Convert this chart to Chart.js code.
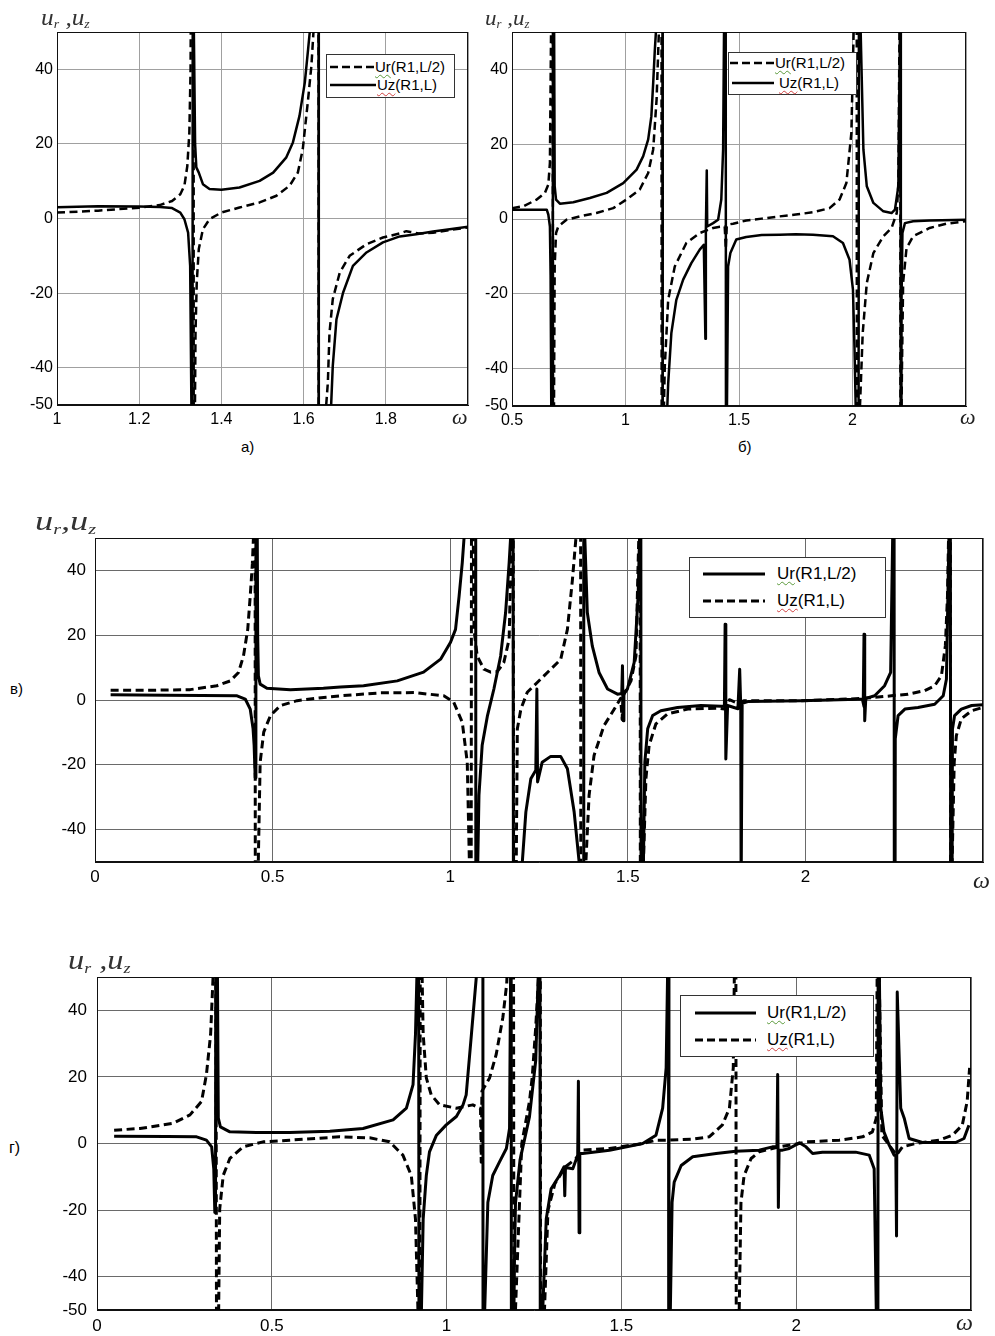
<!DOCTYPE html>
<html>
<head>
<meta charset="utf-8">
<title>u_r, u_z vs omega</title>
<script src="https://cdn.jsdelivr.net/npm/chart.js@4.4.1/dist/chart.umd.min.js"></script>
<style>
  body { margin: 0; background: #fff; }
  #page { position: relative; width: 995px; height: 1336px; overflow: hidden;
          font-family: 'Liberation Sans', Arial, sans-serif; color: #000; }
  canvas { position: absolute; }
  .t { position: absolute; white-space: nowrap; line-height: 1; }
  .ax { font-family: 'Liberation Serif', 'Times New Roman', serif; font-style: italic; color: #333; transform-origin: 0 0; }
  .ax sub { font-size: 55%; vertical-align: -0.25em; }
  .om { font-family: 'Liberation Serif', 'Times New Roman', serif; font-style: italic; color: #222; }
  .leg { position: absolute; background: #fff; border: 1px solid #333; box-sizing: border-box; }
  .leg svg, .leg span { position: absolute; }
  .leg span { white-space: nowrap; line-height: 1; }
  .sg { text-decoration: underline wavy #5a9a3a; text-decoration-thickness: 1px; text-underline-offset: 2px; }
  .sr { text-decoration: underline wavy #d04040; text-decoration-thickness: 1px; text-underline-offset: 2px; }
</style>
</head>
<body>
<div id="page">
  <canvas id="chA" width="480" height="435" style="left:0;top:0;width:480px;height:435px"></canvas>
  <canvas id="chB" width="515" height="435" style="left:480px;top:0;width:515px;height:435px"></canvas>
  <canvas id="chV" width="955" height="400" style="left:40px;top:500px;width:955px;height:400px"></canvas>
  <canvas id="chG" width="955" height="396" style="left:40px;top:940px;width:955px;height:396px"></canvas>

  <!-- axis names -->
  <div class="t ax" style="left:41px;top:6px;font-size:23px;transform:scaleX(1.1)">u<sub>r</sub> ,u<sub>z</sub></div>
  <div class="t ax" style="left:485px;top:8px;font-size:21px;transform:scaleX(1.1)">u<sub>r</sub> ,u<sub>z</sub></div>
  <div class="t ax" style="left:35px;top:507px;font-size:28px;transform:scaleX(1.3)">u<sub>r</sub>,u<sub>z</sub></div>
  <div class="t ax" style="left:68px;top:947px;font-size:27px;transform:scaleX(1.2)">u<sub>r</sub> ,u<sub>z</sub></div>

  <div class="t om" style="left:452px;top:406px;font-size:22px">ω</div>
  <div class="t om" style="left:960px;top:406px;font-size:22px">ω</div>
  <div class="t om" style="left:973px;top:868px;font-size:24px">ω</div>
  <div class="t om" style="left:956px;top:1310px;font-size:24px">ω</div>

  <!-- panel captions -->
  <div class="t" style="left:241px;top:439px;font-size:15px">а)</div>
  <div class="t" style="left:738px;top:439px;font-size:15px">б)</div>
  <div class="t" style="left:10px;top:681px;font-size:15px">в)</div>
  <div class="t" style="left:9px;top:1140px;font-size:16px">г)</div>

  <!-- legends -->
  <div class="leg" style="left:326px;top:54px;width:129px;height:44px">
    <svg style="left:3px;top:9px" width="46" height="6"><line x1="0" y1="3" x2="46" y2="3" stroke="#000" stroke-width="2.5" stroke-dasharray="8 4"/></svg>
    <span style="left:48px;top:4px;font-size:15px"><span class="sg" style="position:static">Ur</span>(R1,L/2)</span>
    <svg style="left:3px;top:27px" width="46" height="6"><line x1="0" y1="3" x2="46" y2="3" stroke="#000" stroke-width="2.5"/></svg>
    <span style="left:50px;top:22px;font-size:15px"><span class="sr" style="position:static">Uz</span>(R1,L)</span>
  </div>
  <div class="leg" style="left:728px;top:52px;width:129px;height:43px">
    <svg style="left:1px;top:7px" width="46" height="6"><line x1="0" y1="3" x2="46" y2="3" stroke="#000" stroke-width="2.5" stroke-dasharray="8 4"/></svg>
    <span style="left:46px;top:2px;font-size:15px"><span class="sg" style="position:static">Ur</span>(R1,L/2)</span>
    <svg style="left:3px;top:27px" width="42" height="6"><line x1="0" y1="3" x2="42" y2="3" stroke="#000" stroke-width="2.5"/></svg>
    <span style="left:50px;top:22px;font-size:15px"><span class="sr" style="position:static">Uz</span>(R1,L)</span>
  </div>
  <div class="leg" style="left:689px;top:557px;width:197px;height:61px">
    <svg style="left:13px;top:13px" width="62" height="6"><line x1="0" y1="3" x2="62" y2="3" stroke="#000" stroke-width="3"/></svg>
    <span style="left:87px;top:7px;font-size:17px"><span class="sg" style="position:static">Ur</span>(R1,L/2)</span>
    <svg style="left:13px;top:40px" width="62" height="6"><line x1="0" y1="3" x2="62" y2="3" stroke="#000" stroke-width="3" stroke-dasharray="8 4"/></svg>
    <span style="left:87px;top:34px;font-size:17px"><span class="sr" style="position:static">Uz</span>(R1,L)</span>
  </div>
  <div class="leg" style="left:680px;top:995px;width:194px;height:62px">
    <svg style="left:14px;top:14px" width="61" height="6"><line x1="0" y1="3" x2="61" y2="3" stroke="#000" stroke-width="3"/></svg>
    <span style="left:86px;top:8px;font-size:17px"><span class="sg" style="position:static">Ur</span>(R1,L/2)</span>
    <svg style="left:14px;top:41px" width="61" height="6"><line x1="0" y1="3" x2="61" y2="3" stroke="#000" stroke-width="3" stroke-dasharray="8 4"/></svg>
    <span style="left:86px;top:35px;font-size:17px"><span class="sr" style="position:static">Uz</span>(R1,L)</span>
  </div>
</div>

<script>
// ---- data: [omega, value]; +-200/300 marks the jump through a resonance ----

// а) Ur(R1,L/2) dashed, Uz(R1,L) solid
const aUr = [[1.00,1.6],[1.05,1.8],[1.10,2.1],[1.15,2.5],[1.20,2.9],[1.25,3.6],[1.28,4.7],[1.30,6.5],[1.31,8.8],
  [1.317,14],[1.322,23],[1.325,40],[1.328,120],[1.332,250],[1.333,-250],[1.335,-60],[1.337,-30.6],[1.340,-17.2],
  [1.345,-8.2],[1.355,-2.9],[1.371,-0.2],[1.40,1.6],[1.444,2.95],[1.493,4.3],[1.534,6.1],[1.566,8.8],[1.586,12.3],
  [1.598,18.6],[1.611,32],[1.619,41],[1.624,50],[1.630,120],[1.636,250],[1.637,-250],[1.652,-60],[1.655,-50],
  [1.659,-44],[1.663,-30.6],[1.671,-21.6],[1.688,-14.5],[1.712,-10],[1.753,-6.9],[1.793,-5.1],[1.834,-4],
  [1.85,-3.4],[1.86,-3.6],[1.88,-4],[1.915,-3.8],[1.96,-3],[2.00,-2.4]];
const aUz = [[1.00,3.0],[1.10,3.3],[1.20,3.2],[1.25,3.1],[1.28,2.8],[1.30,1.6],[1.31,-0.2],[1.319,-3.8],[1.324,-12.7],
  [1.327,-50],[1.329,-250],[1.331,250],[1.333,50],[1.336,20],[1.339,13.7],[1.345,12.3],[1.355,9.2],[1.371,7.9],
  [1.40,7.7],[1.444,8.3],[1.493,10.1],[1.526,12.3],[1.558,16.4],[1.574,20.4],[1.59,27.5],[1.603,36.5],[1.611,45.4],
  [1.615,50],[1.628,150],[1.636,300],[1.637,-300],[1.662,-70],[1.667,-50],[1.671,-39.5],[1.68,-27],[1.696,-19.9],
  [1.72,-12.7],[1.753,-9.1],[1.793,-6.4],[1.834,-4.8],[1.874,-4.2],[1.915,-3.5],[1.96,-2.8],[2.00,-2.2]];

// б) Ur(R1,L/2) dashed, Uz(R1,L) solid
const bUr = [[0.5,2.9],[0.55,3.4],[0.609,5.2],[0.645,7],[0.66,9.2],[0.667,15],[0.672,50],[0.678,200],[0.682,-200],
  [0.685,-50],[0.688,-12.7],[0.694,-3.75],[0.704,-2],[0.74,-0.2],[0.799,0.7],[0.872,1.6],[0.946,2.9],[1.004,5.2],
  [1.063,7.9],[1.1,12.3],[1.122,18.6],[1.137,32],[1.147,50],[1.152,120],[1.158,200],[1.16,-200],[1.166,-60],
  [1.173,-39.5],[1.188,-21.6],[1.217,-12.7],[1.268,-6.4],[1.327,-3.75],[1.386,-2.4],[1.416,-2.1],[1.437,-2],
  [1.442,-8],[1.446,-2],[1.45,-1.5],[1.474,-1.25],[1.532,-0.4],[1.6,0.1],[1.679,0.7],[1.75,1.2],[1.826,1.8],
  [1.899,2.9],[1.943,5.2],[1.973,9.6],[1.995,23],[2.005,50],[2.012,120],[2.018,200],[2.02,-200],[2.033,-50],
  [2.045,-30.5],[2.063,-17.1],[2.092,-9.1],[2.136,-4.6],[2.172,-2.4],[2.195,1.6],[2.202,9.6],[2.207,50],[2.21,200],
  [2.212,-200],[2.214,-60],[2.218,-39.5],[2.223,-17],[2.238,-7.8],[2.267,-4.6],[2.34,-2.4],[2.413,-1.25],[2.5,-0.6]];
const bUz = [[0.5,2.5],[0.6,2.5],[0.653,2.5],[0.66,1.2],[0.667,-2],[0.67,-15],[0.673,-50],[0.679,-250],[0.681,250],
  [0.685,60],[0.688,8.8],[0.694,5.2],[0.711,4.1],[0.77,4.5],[0.843,5.6],[0.917,7],[0.99,9.6],[1.049,13.2],[1.078,16.8],
  [1.1,21.3],[1.114,27.5],[1.122,36.4],[1.129,45],[1.134,50],[1.15,150],[1.162,300],[1.164,-300],[1.178,-60],
  [1.188,-44],[1.202,-30.5],[1.224,-21.6],[1.254,-16.2],[1.29,-11.8],[1.327,-8.2],[1.345,-6.9],[1.352,-32],
  [1.354,-3],[1.358,13],[1.36,-2],[1.386,-1.1],[1.408,-0.2],[1.422,5.2],[1.43,18.6],[1.434,50],[1.44,200],
  [1.444,-200],[1.447,-50],[1.452,-12.7],[1.462,-9.1],[1.488,-5.5],[1.532,-4.8],[1.6,-4.3],[1.679,-4.2],[1.75,-4.1],
  [1.826,-4.2],[1.914,-4.6],[1.958,-6.4],[1.987,-10.9],[2.002,-18.9],[2.009,-35],[2.014,-50],[2.025,-200],[2.03,200],
  [2.036,50],[2.048,18.6],[2.063,8.75],[2.092,4.3],[2.136,2.05],[2.172,1.6],[2.187,2.5],[2.202,8.75],[2.209,50],
  [2.211,200],[2.213,-200],[2.216,-21.6],[2.22,-3.75],[2.231,-1.1],[2.267,-0.6],[2.34,-0.4],[2.5,-0.2]];

// в) Ur(R1,L/2) solid, Uz(R1,L) dashed
const vUr = [[0.044,1.6],[0.2,1.5],[0.4,1.3],[0.423,0.3],[0.437,-2.8],[0.445,-8.9],[0.448,-14],[0.451,-24],[0.453,200],
  [0.455,100],[0.458,20],[0.46,7.5],[0.465,4.9],[0.484,3.6],[0.55,3.2],[0.643,3.6],[0.691,4],[0.756,4.4],[0.851,5.9],
  [0.925,8.6],[0.973,12.6],[1.001,17.8],[1.015,21.8],[1.025,32],[1.034,42.4],[1.039,50],[1.06,200],[1.071,300],
  [1.073,-300],[1.076,-60],[1.081,-29.4],[1.09,-14],[1.105,-4.8],[1.123,3.4],[1.142,13.6],[1.156,27],[1.166,42.4],
  [1.17,50],[1.176,200],[1.179,-200],[1.203,-50],[1.213,-34.6],[1.227,-24.3],[1.241,-21.7],[1.244,3.4],[1.246,-25.3],
  [1.259,-19.2],[1.283,-17.4],[1.311,-17.4],[1.33,-21.2],[1.349,-34.6],[1.363,-50],[1.37,-200],[1.375,-300],
  [1.376,300],[1.379,50],[1.386,27],[1.4,16.7],[1.419,8.5],[1.443,3.4],[1.471,1.8],[1.483,2],[1.485,10.6],
  [1.487,-6.4],[1.489,2],[1.499,3.4],[1.518,11.6],[1.529,32],[1.533,50],[1.536,200],[1.538,-200],[1.544,-50],
  [1.548,-19.2],[1.556,-8.9],[1.57,-4.8],[1.593,-3.3],[1.64,-2.3],[1.706,-1.7],[1.763,-1.9],[1.772,-1.9],
  [1.774,23.4],[1.776,-18.2],[1.781,-1.7],[1.81,-2.7],[1.815,9.5],[1.818,-2],[1.819,-60],[1.822,-1],[1.838,-0.5],
  [1.988,-0.2],[2.148,0.2],[2.163,0.3],[2.165,20.3],[2.167,-6.4],[2.17,0.5],[2.195,1.3],[2.223,4.4],[2.24,8.5],
  [2.247,60],[2.249,200],[2.251,-200],[2.253,-12],[2.261,-4.8],[2.28,-2.8],[2.317,-2.3],[2.364,-1.3],[2.388,1.3],
  [2.397,6.4],[2.404,50],[2.407,200],[2.41,-200],[2.414,-9],[2.42,-4.8],[2.439,-2.8],[2.468,-1.7],[2.5,-1.5]];
const vUz = [[0.044,3],[0.15,3],[0.268,3.2],[0.343,4.4],[0.381,5.9],[0.404,8.5],[0.418,13.6],[0.43,21.8],[0.437,32],
  [0.443,42],[0.446,50],[0.45,200],[0.452,-200],[0.458,-60],[0.465,-19.2],[0.475,-9.9],[0.494,-4.8],[0.522,-1.7],
  [0.569,-0.2],[0.644,0.8],[0.691,1.3],[0.804,2.2],[0.898,2.3],[0.982,1.3],[1.01,-0.7],[1.034,-6.9],[1.048,-19.2],
  [1.054,-50],[1.058,-200],[1.061,200],[1.065,50],[1.067,21.8],[1.076,13.6],[1.095,9.5],[1.114,8.6],[1.133,8.8],
  [1.151,11.6],[1.166,18.8],[1.172,50],[1.176,200],[1.18,-200],[1.186,-50],[1.189,-8.9],[1.199,-2.8],[1.217,2.4],
  [1.245,5.4],[1.283,9.5],[1.311,12.5],[1.33,21.8],[1.344,37],[1.354,50],[1.366,300],[1.369,-300],[1.382,-50],
  [1.391,-29.4],[1.405,-17.1],[1.433,-7.9],[1.462,-2.8],[1.48,0.5],[1.484,-6],[1.487,1.3],[1.509,5.9],[1.523,13.6],
  [1.529,42],[1.531,50],[1.534,200],[1.536,-200],[1.544,-50],[1.551,-24.3],[1.56,-14],[1.579,-7.4],[1.612,-4.3],
  [1.669,-2.8],[1.753,-2.5],[1.772,-2.8],[1.786,0.1],[1.81,-1],[1.828,-0.2],[1.988,-0.2],[2.1,0.2],[2.16,0.5],
  [2.165,-2],[2.17,0.6],[2.195,0.8],[2.242,1.3],[2.289,1.8],[2.336,2.9],[2.364,4.4],[2.383,7.5],[2.394,16.7],
  [2.4,32],[2.403,50],[2.407,200],[2.41,-200],[2.413,-50],[2.419,-19.2],[2.425,-11],[2.439,-5.8],[2.468,-3.3],[2.5,-2.3]];

// г) Ur(R1,L/2) solid, Uz(R1,L) dashed
const gUr = [[0.049,2.2],[0.2,2.1],[0.285,2],[0.313,1],[0.328,-1],[0.334,-7.6],[0.337,-20.7],[0.339,-20.7],[0.341,200],
  [0.344,60],[0.347,7.6],[0.353,5],[0.38,3.5],[0.456,3.3],[0.551,3.3],[0.666,3.7],[0.761,4.5],[0.847,7.1],[0.885,10.6],
  [0.904,17.7],[0.911,32.8],[0.915,50],[0.919,200],[0.922,-200],[0.928,-50],[0.933,-22.7],[0.942,-9.6],[0.951,-2.5],
  [0.971,2.5],[0.999,5.6],[1.028,8.1],[1.047,11.6],[1.056,14.6],[1.071,32.8],[1.085,50],[1.1,200],[1.103,300],
  [1.105,-300],[1.109,-50],[1.118,-17.7],[1.132,-9.6],[1.151,-5.6],[1.171,-1.5],[1.18,4.5],[1.183,50],[1.184,200],
  [1.186,-200],[1.19,-60],[1.197,-18],[1.21,-5],[1.237,8],[1.255,25],[1.262,50],[1.266,200],[1.269,-200],[1.275,-50],
  [1.285,-22.7],[1.299,-13.6],[1.323,-9.6],[1.336,-7],[1.338,-15.7],[1.34,-7.2],[1.361,-7.6],[1.375,-3.5],
  [1.377,18.7],[1.379,-26.8],[1.381,-3],[1.389,-3],[1.466,-2],[1.561,0],[1.599,2.5],[1.618,10.6],[1.628,22.7],
  [1.632,50],[1.634,200],[1.636,-200],[1.64,-50],[1.645,-17.7],[1.651,-11.6],[1.671,-6.6],[1.704,-4],[1.771,-3],
  [1.827,-2.3],[1.894,-2],[1.932,-1],[1.945,-1],[1.947,20.7],[1.949,-19.2],[1.951,-2],[1.961,-2],[1.98,-1.5],
  [2.009,0.2],[2.028,-1],[2.047,-3],[2.075,-2.6],[2.17,-2.6],[2.209,-3.5],[2.223,-7.6],[2.229,-50],[2.233,-200],
  [2.235,200],[2.238,50],[2.242,10.6],[2.251,3.5],[2.266,-0.5],[2.28,-3.5],[2.285,-3.5],[2.287,-27.8],[2.289,45.5],
  [2.299,10.6],[2.309,7.6],[2.323,1.5],[2.361,0.3],[2.456,0.3],[2.48,1.5],[2.494,5.5]];
const gUz = [[0.049,4],[0.123,4.5],[0.218,6.1],[0.266,8.6],[0.299,12.6],[0.313,20.7],[0.325,32.8],[0.332,50],
  [0.338,200],[0.344,-200],[0.348,-50],[0.351,-19.7],[0.361,-9.6],[0.38,-4.5],[0.418,-1],[0.475,0.5],[0.551,1],
  [0.694,2],[0.78,1.7],[0.837,0.5],[0.875,-3.5],[0.899,-9.6],[0.911,-22.7],[0.918,-50],[0.922,-200],[0.926,200],
  [0.93,50],[0.933,32.8],[0.942,19.7],[0.956,14.6],[0.98,11.6],[1.028,10.6],[1.075,11.6],[1.094,10.6],[1.097,10.6],
  [1.099,-5.6],[1.101,15.7],[1.123,19.7],[1.142,26.8],[1.161,37.9],[1.172,48],[1.176,60],[1.19,200],[1.194,-200],
  [1.197,-50],[1.215,0],[1.237,12.6],[1.245,20],[1.255,35],[1.263,50],[1.267,200],[1.27,-200],[1.28,-50],[1.29,-20],
  [1.31,-12],[1.34,-7],[1.37,-4.5],[1.389,-2],[1.466,-1.5],[1.561,0],[1.599,1],[1.628,1],[1.704,1.3],[1.751,2],
  [1.789,5.6],[1.809,10.6],[1.82,22.7],[1.823,50],[1.826,200],[1.83,-200],[1.837,-50],[1.842,-17.7],[1.851,-9.6],
  [1.871,-4.5],[1.894,-2.5],[1.932,-1.5],[1.951,-1],[2.009,0],[2.028,0.5],[2.123,1],[2.19,2],[2.218,3.5],[2.229,7.6],
  [2.232,60],[2.236,60],[2.245,2.5],[2.266,-0.5],[2.287,-3.5],[2.304,-1],[2.342,0],[2.409,1],[2.447,2.5],
  [2.475,5.5],[2.489,12.6],[2.496,22.7]];

// tick values
const yTicks = [-50, -40, -20, 0, 20, 40, 50];
const aXTicks = [1, 1.2, 1.4, 1.6, 1.8, 2];
const bXTicks = [0.5, 1, 1.5, 2, 2.5];
const vXTicks = [0, 0.5, 1, 1.5, 2, 2.5];
const gXTicks = [0, 0.5, 1, 1.5, 2, 2.5];

Chart.defaults.animation = false;

// black frame round the plot area
const framePlugin = {
  id: 'frame',
  beforeDatasetsDraw(chart) {
    const { ctx, chartArea: a } = chart;
    ctx.save();
    ctx.strokeStyle = '#111';
    ctx.lineWidth = 1;
    ctx.strokeRect(a.left + 0.5, a.top + 0.5, a.right - a.left - 1, a.bottom - a.top - 1);
    ctx.restore();
  }
};

function series(points, label, dashed, width) {
  return {
    label,
    data: points.map(p => ({ x: p[0], y: p[1] })),
    borderColor: '#000',
    borderWidth: width,
    borderDash: dashed ? [8, 4.5] : [],
    borderJoinStyle: 'round',
    pointRadius: 0,
    tension: 0,
    fill: false
  };
}

function makePanel(id, p) {
  const tickFont = { family: "'Liberation Sans', Arial, sans-serif", size: p.fontSize };
  return new Chart(document.getElementById(id), {
    type: 'line',
    data: { datasets: p.datasets },
    options: {
      responsive: false,
      devicePixelRatio: 1,
      layout: { padding: { top: p.padTop, right: p.padRight, left: 0, bottom: 0 } },
      plugins: { legend: { display: false }, tooltip: { enabled: false } },
      scales: {
        x: {
          type: 'linear', min: p.xTicks[0], max: p.xTicks[p.xTicks.length - 1],
          afterBuildTicks: s => { s.ticks = p.xTicks.map(v => ({ value: v })); },
          afterFit: s => { s.height = p.axisH; },
          ticks: {
            autoSkip: false, maxRotation: 0, padding: p.xPad, font: tickFont, color: '#000',
            callback: v => v === p.xTicks[p.xTicks.length - 1] ? '' : String(v)
          },
          grid: { color: p.gridColor, lineWidth: 1, drawTicks: false },
          border: { color: '#111' }
        },
        y: {
          type: 'linear', min: -50, max: 50,
          afterBuildTicks: s => { s.ticks = yTicks.map(v => ({ value: v })); },
          afterFit: s => { s.width = p.axisW; },
          ticks: {
            autoSkip: false, padding: p.yPad, font: tickFont, color: '#000',
            callback: v => p.yHide.includes(v) ? '' : String(v)
          },
          grid: { color: p.gridColor, lineWidth: 1, drawTicks: false },
          border: { color: '#111' }
        }
      }
    },
    plugins: [framePlugin]
  });
}

makePanel('chA', {
  datasets: [series(aUr, 'Ur(R1,L/2)', true, 2.5), series(aUz, 'Uz(R1,L)', false, 2.5)],
  xTicks: aXTicks, yHide: [50], axisW: 57, axisH: 30, padTop: 32, padRight: 12,
  fontSize: 16, xPad: 5, yPad: 4, gridColor: '#a0a0a0'
});
makePanel('chB', {
  datasets: [series(bUr, 'Ur(R1,L/2)', true, 2.5), series(bUz, 'Uz(R1,L)', false, 2.5)],
  xTicks: bXTicks, yHide: [50], axisW: 32, axisH: 29, padTop: 32, padRight: 29,
  fontSize: 16, xPad: 5, yPad: 4, gridColor: '#a0a0a0'
});
makePanel('chV', {
  datasets: [series(vUz, 'Uz(R1,L)', true, 3), series(vUr, 'Ur(R1,L/2)', false, 3)],
  xTicks: vXTicks, yHide: [-50, 50], axisW: 55, axisH: 38, padTop: 38, padRight: 12,
  fontSize: 17, xPad: 5, yPad: 9, gridColor: '#6a6a6a'
});
makePanel('chG', {
  datasets: [series(gUz, 'Uz(R1,L)', true, 3), series(gUr, 'Ur(R1,L/2)', false, 3)],
  xTicks: gXTicks, yHide: [50], axisW: 57, axisH: 26, padTop: 37, padRight: 24,
  fontSize: 17, xPad: 6, yPad: 10, gridColor: '#6a6a6a'
});
</script>
</body>
</html>
